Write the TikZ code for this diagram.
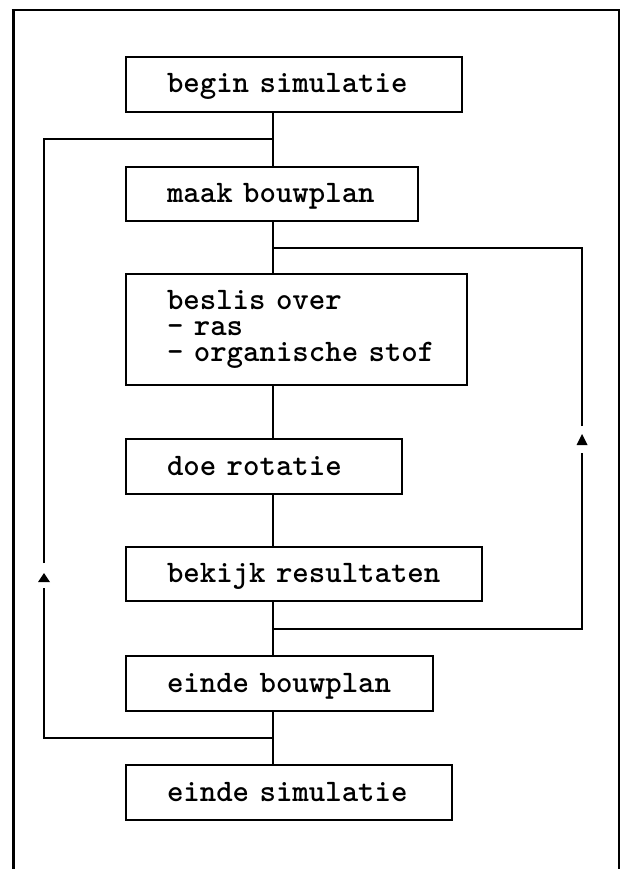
\documentclass[tikz,border=0pt]{standalone}
\begin{document}
\begin{tikzpicture}[x=1pt,y=-1pt,
  box/.style={draw, line width=2.4pt, rectangle, anchor=north west, outer sep=0pt,
    inner xsep=41pt, inner ysep=0pt, align=left,
    font=\ttfamily\bfseries\fontsize{31.3}{26}\selectfont},
  one/.style={text height=18pt, text depth=1pt},
  con/.style={line width=2.2pt},
  tipmark/.style={fill=black}
]
\useasboundingbox (0,0) rectangle (622,869);
\fill[white] (0,0) rectangle (622,869);
% outer frame (open at the bottom)
\draw[line width=3pt] (13,869) -- (13,10);
\draw[line width=2pt] (11.5,10) -- (619,10) -- (619,869);

% boxes
\node[box, one, minimum width=336pt, minimum height=55pt, text width=254pt] (b1) at (126,57) {\mbox{begin simulatie}};
\node[box, one, minimum width=292pt, minimum height=54pt, text width=210pt] (b2) at (126,167) {\mbox{maak bouwplan}};
\node[box, minimum width=341pt, minimum height=111pt, text width=259pt] (b3) at (126,274) {\mbox{beslis over}\\\mbox{- ras}\\\mbox{- organische stof}};
\node[box, one, minimum width=276pt, minimum height=55pt, text width=194pt] (b4) at (126,439) {\mbox{doe rotatie}};
\node[box, one, minimum width=356pt, minimum height=54pt, text width=274pt] (b5) at (126,547) {\mbox{bekijk resultaten}};
\node[box, one, minimum width=307pt, minimum height=55pt, text width=225pt] (b6) at (126,656) {\mbox{einde bouwplan}};
\node[box, one, minimum width=326pt, minimum height=55pt, text width=244pt] (b7) at (126,765) {\mbox{einde simulatie}};

% reference coordinates
\coordinate (cx) at (273,0);
\coordinate (lx) at (44,0);
\coordinate (rx) at (582,0);
\coordinate (jl1) at (273,139);
\coordinate (jr1) at (273,248);
\coordinate (jr2) at (273,629);
\coordinate (jl2) at (273,738);
\coordinate (la0) at (44,588);
\coordinate (la1) at (44,563);
\coordinate (ltip) at (44,573);
\coordinate (lbase) at (44,582);
\coordinate (ra0) at (582,453);
\coordinate (ra1) at (582,426);
\coordinate (rtip) at (582,434);
\coordinate (rbase) at (582,445);

% main spine
\draw[con] (b1.south -| cx) -- (b2.north -| cx);
\draw[con] (b2.south -| cx) -- (b3.north -| cx);
\draw[con] (b3.south -| cx) -- (b4.north -| cx);
\draw[con] (b4.south -| cx) -- (b5.north -| cx);
\draw[con] (b5.south -| cx) -- (b6.north -| cx);
\draw[con] (b6.south -| cx) -- (b7.north -| cx);

% left loop (einde bouwplan back to maak bouwplan)
\draw[con] (jl2) -- (jl2 -| lx) -- (la0);
\draw[con] (la1) -- (jl1 -| lx) -- (jl1);
\fill[tipmark] ([xshift=-6pt]lbase) -- ([xshift=6pt]lbase) -- (ltip) -- cycle;

% right loop (bekijk resultaten back to beslis over)
\draw[con] (jr2) -- (jr2 -| rx) -- (ra0);
\draw[con] (ra1) -- (jr1 -| rx) -- (jr1);
\fill[tipmark] ([xshift=-5.5pt]rbase) -- ([xshift=5.5pt]rbase) -- (rtip) -- cycle;
\end{tikzpicture}
\end{document}
